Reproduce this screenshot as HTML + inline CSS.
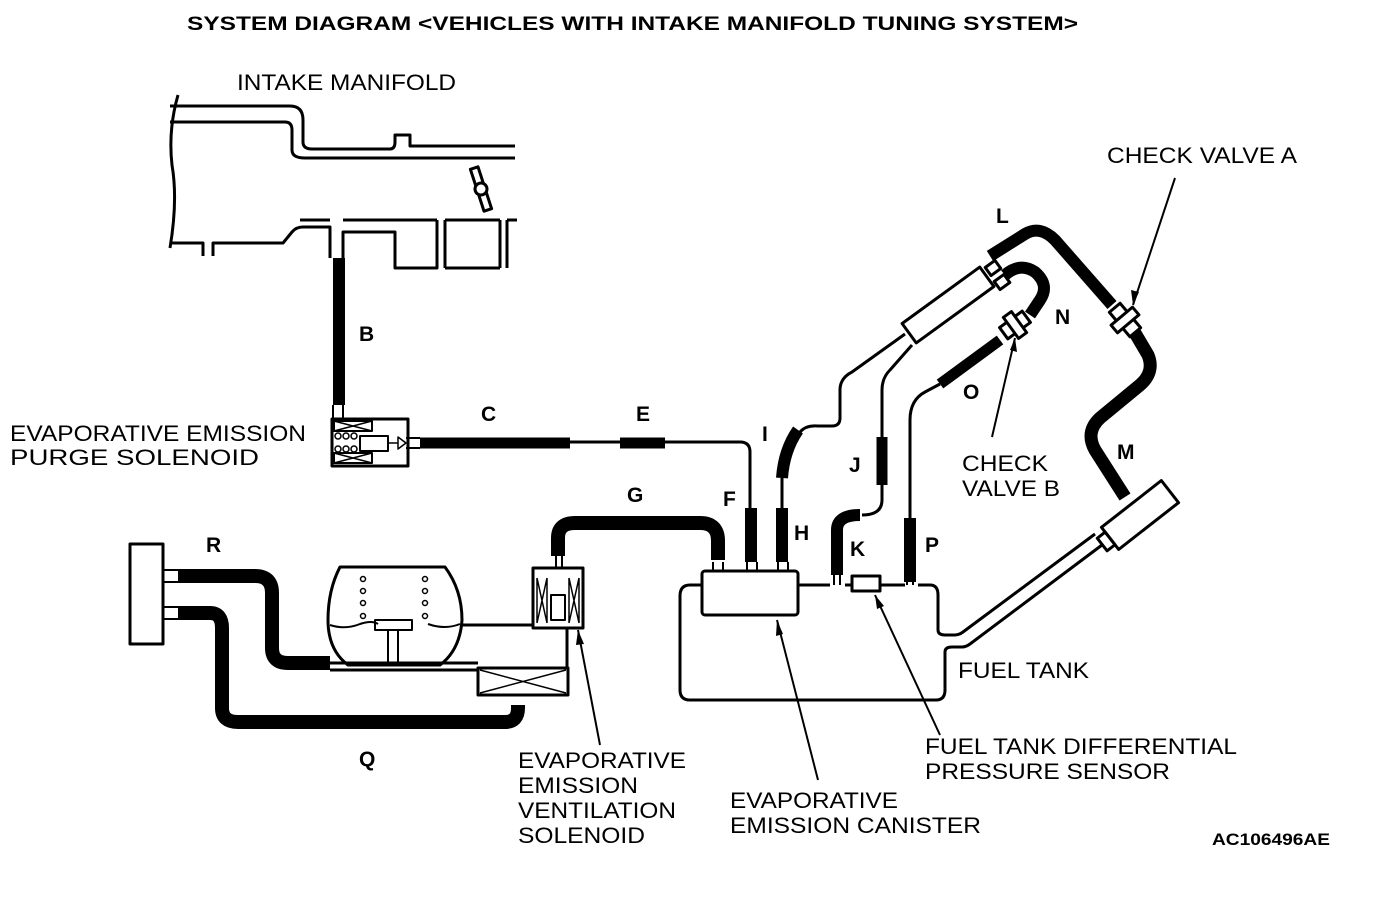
<!DOCTYPE html>
<html><head><style>
html,body{margin:0;padding:0;background:#fff;}
svg{display:block;}
text{font-family:"Liberation Sans",Arial,sans-serif;fill:#000;}
.t{font-size:22px;}
.b{font-size:21px;font-weight:bold;}
</style></head><body>
<svg width="1392" height="920" viewBox="0 0 1392 920" xmlns="http://www.w3.org/2000/svg">
<g fill="none" stroke="#000" stroke-width="3" stroke-linejoin="round">
<path d="M178,95 Q168,130 172,165 Q178,200 170,248"/>
<path d="M170,106 H290 Q303,106 303,120 V142 Q303,149 312,149 H390 Q395,149 395,142 V135 H410 V146 H515"/>
<path d="M170,122 H285 Q292,122 292,130 V150 Q292,158 305,158 H515"/>
<path d="M170,243 H203 V256"/>
<path d="M213,256 V243 H283 L292,232 Q296,227 303,227 H330 V258"/>
<path d="M300,220 H330 M343,220 H437 M445,220 H500 M507,220 H517"/>
<path d="M343,258 V232 H395 V268 H437 V220 M445,268 V220 M500,268 V220 M507,268 V220"/>
<path d="M445,268 H500"/>
<g transform="translate(481,189) rotate(-18)"><rect x="-4" y="-22" width="8" height="44" fill="#fff"/><circle r="6" fill="#fff"/></g>
<path d="M333,405 V420 M343,405 V420" stroke-width="2"/>
<rect x="332" y="419" width="76" height="47" fill="#fff"/>
<rect x="334" y="421" width="38" height="10" stroke-width="2"/>
<path d="M334,421 L372,431 M372,421 L334,431" stroke-width="1.5"/>
<rect x="334" y="453" width="38" height="10" stroke-width="2"/>
<path d="M334,453 L372,463 M372,453 L334,463" stroke-width="1.5"/>
<rect x="360" y="436" width="28" height="15" stroke-width="2"/>
<path d="M388,443 H398 M398,437 L406,443 L398,449 Z" stroke-width="1.5"/>
<g stroke-width="1.5"><circle cx="338" cy="436" r="3"/><circle cx="346" cy="436" r="3"/><circle cx="354" cy="436" r="3"/><circle cx="338" cy="449" r="3"/><circle cx="346" cy="449" r="3"/><circle cx="354" cy="449" r="3"/></g>
<path d="M406,438 H420 M406,448 H420" stroke-width="2"/>
<path d="M570,442 H740 Q750,442 750,452 V510"/>
<rect x="130" y="544" width="33" height="100" fill="#fff"/>
<path d="M163,570 H178 M163,582 H178 M163,607 H178 M163,619 H178" stroke-width="2"/>
<path d="M178,576 H255 Q272,576 272,593 V648 Q272,663 288,663 H330" stroke-width="14"/>
<path d="M178,613 H210 Q222,613 222,628 V708 Q222,722 238,722 H505 Q518,722 518,708 V705" stroke-width="14"/>
<path d="M340,567 H445 Q462,590 462,620 Q460,650 440,665 H348 Q328,650 328,620 Q328,590 340,567 Z" fill="#fff"/>
<path d="M330,625 Q345,630 360,624 Q372,620 378,624 M428,624 Q445,630 460,624" stroke-width="2"/>
<rect x="375" y="620" width="37" height="10" stroke-width="2"/>
<path d="M388,630 V663 M398,630 V663" stroke-width="2"/>
<g stroke-width="1.5"><circle cx="363" cy="579" r="2.5"/><circle cx="363" cy="591" r="2.5"/><circle cx="363" cy="603" r="2.5"/><circle cx="363" cy="616" r="2.5"/><circle cx="425" cy="579" r="2.5"/><circle cx="425" cy="591" r="2.5"/><circle cx="425" cy="603" r="2.5"/><circle cx="425" cy="616" r="2.5"/></g>
<path d="M330,663 H478 M330,670 H478"/>
<path d="M461,625 H535"/>
<rect x="533" y="568" width="50" height="60" fill="#fff"/>
<path d="M537,578 V623 M547,578 V623 M537,578 L547,623 M547,578 L537,623" stroke-width="1.5"/>
<path d="M569,578 V623 M579,578 V623 M569,578 L579,623 M579,578 L569,623" stroke-width="1.5"/>
<rect x="551" y="595" width="14" height="25" stroke-width="2"/>
<path d="M556,555 V568 M562,555 V568" stroke-width="2"/>
<path d="M567,628 V670"/>
<rect x="478" y="668" width="90" height="27" fill="#fff"/>
<path d="M480,670 L566,693 M566,670 L480,693" stroke-width="1.5"/>
<path d="M558,556 V538 Q558,523 575,523 H700 Q718,523 718,541 V560" stroke-width="14"/>
<!-- tank -->
<path d="M702,585 H690 Q680,585 680,596 V690 Q680,700 690,700 H936 Q945,700 945,690 V652 Q945,647 952,647 H962 Q966,647 970,644 L1102,545"/>
<path d="M798,585 H830 M845,585 H852 M880,585 H905 M918,585 H930 Q938,585 938,595 V630 Q938,635 945,635 H955 Q959,635 963,632 L1095,534"/>
<rect x="702" y="571" width="96" height="44" rx="3" fill="#fff"/>
<path d="M713,562 V571 M723,562 V571 M747,562 V571 M757,562 V571 M778,562 V571 M788,562 V571" stroke-width="2"/>
<path d="M834,575 V585 M840,575 V585 M907,575 V585 M913,575 V585" stroke-width="2"/>
<rect x="852" y="576" width="28" height="15" fill="#fff"/>
<g transform="translate(1140,515) rotate(-38)"><rect x="-38" y="-14" width="76" height="28" fill="#fff"/><rect x="-48" y="-8" width="10" height="16" fill="#fff"/></g>
<path d="M782,510 V478"/>
<path d="M800,432 Q806,425 818,426 H832 Q840,426 840,418 V390 Q840,378 852,372 L905,334"/>
<path d="M882,437 V390 Q882,378 890,370 L912,345"/>
<path d="M862,515 Q882,515 882,500 V485"/>
<path d="M910,518 V420 Q910,400 925,392 L940,384"/>
<g transform="translate(948,305) rotate(-36)"><rect x="-48" y="-12" width="96" height="24" fill="#fff"/></g>
<g transform="translate(993,268) rotate(-36)"><rect x="-6" y="-5" width="12" height="10" fill="#fff"/></g>
<g transform="translate(1002,282) rotate(-36)"><rect x="-6" y="-5" width="12" height="10" fill="#fff"/></g>
<g transform="translate(1015,325) rotate(-36)"><rect x="-14" y="-7" width="28" height="14" fill="#fff"/><rect x="-5" y="-13" width="10" height="26" fill="#fff"/></g>
<g transform="translate(1125,320) rotate(50)"><rect x="-16" y="-7" width="32" height="14" fill="#fff"/><rect x="-5" y="-14" width="10" height="28" fill="#fff"/></g>
</g>
<g fill="none" stroke="#000" stroke-linecap="butt">
<path d="M339,258 V405" stroke-width="12"/>
<path d="M420,443 H570" stroke-width="11"/>
<path d="M620,443 H665" stroke-width="11"/>
<path d="M751,508 V562" stroke-width="12"/>
<path d="M782,508 V562" stroke-width="12"/>
<path d="M782,478 Q784,450 798,430" stroke-width="12"/>
<path d="M837,575 V530 Q837,515 860,515" stroke-width="12"/>
<path d="M882,485 V437" stroke-width="11"/>
<path d="M910,582 V518" stroke-width="12"/>
<path d="M940,384 L1000,340" stroke-width="11"/>
<path d="M1005,275 Q1020,262 1035,272 Q1050,285 1040,300 L1030,315" stroke-width="12"/>
<path d="M990,256 L1025,234 Q1040,225 1055,240 L1112,305" stroke-width="12"/>
<path d="M1135,333 L1148,355 Q1155,372 1140,385 L1100,418 Q1085,432 1095,450 L1125,497" stroke-width="13"/>
</g>
<g stroke="#000" stroke-width="2" fill="none">
<path d="M1175,178 L1133,305"/>
<path d="M992,437 L1015,338"/>
<path d="M600,745 L578,630"/>
<path d="M818,780 L777,620"/>
<path d="M940,735 L875,595"/>
</g>
<g fill="#000">
<path d="M1133,305 L1131,290 L1139,292 Z"/>
<path d="M1015,338 L1017,352 L1010,350 Z"/>
<path d="M578,630 L584,644 L576,645 Z"/>
<path d="M777,620 L783,634 L776,636 Z"/>
<path d="M875,595 L884,606 L877,609 Z"/>
</g>
<text x="187" y="30" style="font-size:19px;font-weight:bold" textLength="891" lengthAdjust="spacingAndGlyphs">SYSTEM DIAGRAM &lt;VEHICLES WITH INTAKE MANIFOLD TUNING SYSTEM&gt;</text>
<text class="t" x="237" y="90" textLength="219" lengthAdjust="spacingAndGlyphs">INTAKE MANIFOLD</text>
<text class="t" x="10" y="441" textLength="296" lengthAdjust="spacingAndGlyphs">EVAPORATIVE EMISSION</text>
<text class="t" x="10" y="465" textLength="249" lengthAdjust="spacingAndGlyphs">PURGE SOLENOID</text>
<text class="t" x="1107" y="163" textLength="190" lengthAdjust="spacingAndGlyphs">CHECK VALVE A</text>
<text class="t" x="962" y="471" textLength="86" lengthAdjust="spacingAndGlyphs">CHECK</text>
<text class="t" x="962" y="496" textLength="98" lengthAdjust="spacingAndGlyphs">VALVE B</text>
<text class="t" x="958" y="678" textLength="131" lengthAdjust="spacingAndGlyphs">FUEL TANK</text>
<text class="t" x="925" y="754" textLength="312" lengthAdjust="spacingAndGlyphs">FUEL TANK DIFFERENTIAL</text>
<text class="t" x="925" y="779" textLength="245" lengthAdjust="spacingAndGlyphs">PRESSURE SENSOR</text>
<text class="t" x="730" y="808" textLength="168" lengthAdjust="spacingAndGlyphs">EVAPORATIVE</text>
<text class="t" x="730" y="833" textLength="251" lengthAdjust="spacingAndGlyphs">EMISSION CANISTER</text>
<text class="t" x="518" y="768" textLength="168" lengthAdjust="spacingAndGlyphs">EVAPORATIVE</text>
<text class="t" x="518" y="793" textLength="120" lengthAdjust="spacingAndGlyphs">EMISSION</text>
<text class="t" x="518" y="818" textLength="158" lengthAdjust="spacingAndGlyphs">VENTILATION</text>
<text class="t" x="518" y="843" textLength="127" lengthAdjust="spacingAndGlyphs">SOLENOID</text>
<text x="1212" y="845" style="font-size:17px;font-weight:bold" textLength="118" lengthAdjust="spacingAndGlyphs">AC106496AE</text>
<text class="b" x="359" y="341">B</text>
<text class="b" x="481" y="421">C</text>
<text class="b" x="636" y="421">E</text>
<text class="b" x="627" y="502">G</text>
<text class="b" x="723" y="506">F</text>
<text class="b" x="762" y="441">I</text>
<text class="b" x="794" y="540">H</text>
<text class="b" x="849" y="472">J</text>
<text class="b" x="850" y="556">K</text>
<text class="b" x="925" y="552">P</text>
<text class="b" x="963" y="399">O</text>
<text class="b" x="1055" y="324">N</text>
<text class="b" x="996" y="223">L</text>
<text class="b" x="1117" y="459">M</text>
<text class="b" x="206" y="552">R</text>
<text class="b" x="359" y="766">Q</text>
</svg>
</body></html>
